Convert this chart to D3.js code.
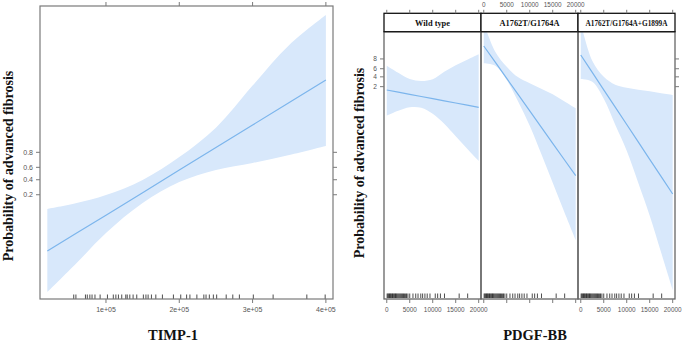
<!DOCTYPE html>
<html>
<head>
<meta charset="utf-8">
<script src="https://cdn.jsdelivr.net/npm/d3@7"></script>
<style>
  body { margin: 0; background: #fff; }
  svg { display: block; }
</style>
</head>
<body>
<svg id="chart"></svg>
<script>
// ---- data (fit & 95% band on the logit scale) ----
const timpX = [20000, 60000, 100000, 150000, 200000, 250000, 300000, 350000, 400000];
const timpFit = [-5.07, -3.89, -2.72, -1.25, 0.23, 1.70, 3.17, 4.64, 6.11];
const timpUpper = [-2.32, -1.93, -1.41, -0.42, 1.08, 3.0, 5.75, 8.4, 10.36];
const timpLower = [-7.75, -5.85, -3.89, -1.93, -0.56, 0.23, 0.69, 1.21, 1.80];
const timpRug = [56000, 59000, 72000, 74500, 78000, 81000, 85000, 92000, 102000, 110000,
  113500, 117000, 121500, 127000, 129000, 132500, 137000, 142000, 151000, 154500,
  157500, 162000, 168000, 177000, 192000, 202000, 210000, 214500, 224000, 233500,
  236500, 241000, 246500, 251000, 264000, 273000, 282000, 301000, 328000, 374000, 399000];
const timpTicks = [100000, 200000, 300000, 400000];
const timpTickLabels = ['1e+05', '2e+05', '3e+05', '4e+05'];

const genotypes = ['Wild type', 'A1762T/G1764A', 'A1762T/G1764A+G1899A'];
const pdgfX = [0, 2500, 5000, 7500, 10000, 12500, 15000, 17500, 20000];
const pdgfFit = [
  [-1.72, -1.94, -2.15, -2.37, -2.59, -2.80, -3.02, -3.23, -3.45],
  [2.68, 1.06, -0.56, -2.18, -3.81, -5.43, -7.05, -8.67, -10.29],
  [1.78, 0.04, -1.70, -3.43, -5.17, -6.91, -8.65, -10.38, -12.12]
];
const pdgfUpper = [
  [0.71, 0.0, -0.62, -0.82, -0.65, 0.1, 0.75, 1.3, 1.85],
  [5.0, 2.1, 0.6, -0.45, -1.05, -1.6, -2.15, -2.85, -3.55],
  [5.0, 1.2, -0.4, -1.2, -1.5, -1.7, -1.85, -2.05, -2.22]
];
const pdgfLower = [
  [-4.29, -3.8, -3.45, -3.5, -4.1, -5.1, -6.35, -7.6, -8.82],
  [0.95, 0.7, -0.72, -2.9, -5.3, -8.1, -11.0, -13.9, -16.72],
  [-0.62, -0.9, -2.6, -5.2, -7.8, -11.0, -14.3, -18.0, -21.72]
];
const pdgfRug = [80, 250, 420, 600, 760, 900, 1080, 1250, 1400, 1580, 1750, 1900, 2080,
  2250, 2450, 2650, 2850, 3050, 3250, 3450, 3650, 3850, 4100, 4300, 4600, 5000, 5700,
  6300, 6800, 7400, 7800, 8300, 8800, 9400, 10550, 11070, 11670, 12560, 15750, 17600];
const pdgfTicks = [0, 5000, 10000, 15000, 20000];

const probTicks = [0.2, 0.4, 0.6, 0.8];
const probLabelsLeft = ['0.2', '0.4', '0.6', '0.8'];
const probLabelsRight = ['2', '4', '6', '8'];

// ---- layout ----
const W = 685, H = 343;
const svg = d3.select('#chart').attr('width', W).attr('height', H);
svg.append('rect').attr('width', W).attr('height', H).attr('fill', '#fff');

const BAND = '#d8e8fb', LINE = '#7cb5ec', BOX = '#7a7a7a', TXT = '#555';
const serif = '"Liberation Serif", "Times New Roman", serif';
const sans = '"Liberation Sans", Arial, sans-serif';
const logit = p => Math.log(p / (1 - p));

function drawCurve(g, xs, xScale, yScale, fit, up, lo) {
  const pts = xs.map((x, i) => ({x, f: fit[i], u: up[i], l: lo[i]}));
  g.append('path')
    .datum(pts)
    .attr('d', d3.area().x(d => xScale(d.x)).y0(d => yScale(d.l)).y1(d => yScale(d.u))
      .curve(d3.curveCatmullRom))
    .attr('fill', BAND);
  g.append('path')
    .datum(pts)
    .attr('d', d3.line().x(d => xScale(d.x)).y(d => yScale(d.f)))
    .attr('fill', 'none').attr('stroke', LINE).attr('stroke-width', 1.2);
}

function rug(g, vals, xScale, yBottom) {
  g.selectAll(null).data(vals).enter().append('line')
    .attr('x1', d => xScale(d)).attr('x2', d => xScale(d))
    .attr('y1', yBottom - 4.5).attr('y2', yBottom)
    .attr('stroke', '#111').attr('stroke-width', 0.75);
}

// ================= left panel: TIMP-1 =================
const L = {left: 40, right: 333, top: 6, bottom: 299};
const xL = d3.scaleLinear().domain([10000, 409700]).range([L.left, L.right]);
const yL = d3.scaleLinear().domain([-8.2, 10.95]).range([L.bottom, L.top]);

const gL = svg.append('g');
const clipL = svg.append('clipPath').attr('id', 'clipL');
clipL.append('rect').attr('x', L.left).attr('y', L.top)
  .attr('width', L.right - L.left).attr('height', L.bottom - L.top);
const plotL = gL.append('g').attr('clip-path', 'url(#clipL)');
drawCurve(plotL, timpX, xL, yL, timpFit, timpUpper, timpLower);
rug(plotL, timpRug, xL, L.bottom);

gL.append('rect').attr('x', L.left).attr('y', L.top)
  .attr('width', L.right - L.left).attr('height', L.bottom - L.top)
  .attr('fill', 'none').attr('stroke', BOX).attr('stroke-width', 1.2);

// ticks
timpTicks.forEach((t, i) => {
  const x = xL(t);
  gL.append('line').attr('x1', x).attr('x2', x).attr('y1', L.bottom).attr('y2', L.bottom + 4)
    .attr('stroke', BOX);
  gL.append('line').attr('x1', x).attr('x2', x).attr('y1', L.top).attr('y2', L.top - 4)
    .attr('stroke', BOX);
  gL.append('text').text(timpTickLabels[i]).attr('x', x).attr('y', L.bottom + 13)
    .attr('text-anchor', 'middle').attr('font-family', sans).attr('font-size', 7)
    .attr('fill', TXT);
});
probTicks.forEach((p, i) => {
  const y = yL(logit(p));
  gL.append('line').attr('x1', L.left - 4).attr('x2', L.left).attr('y1', y).attr('y2', y)
    .attr('stroke', BOX);
  gL.append('line').attr('x1', L.right).attr('x2', L.right + 4).attr('y1', y).attr('y2', y)
    .attr('stroke', BOX);
  gL.append('text').text(probLabelsLeft[i]).attr('x', L.left - 7).attr('y', y + 2.4)
    .attr('text-anchor', 'end').attr('font-family', sans).attr('font-size', 7)
    .attr('fill', TXT);
});

svg.append('text').text('Probability of advanced fibrosis')
  .attr('transform', 'translate(13,166) rotate(-90)')
  .attr('text-anchor', 'middle').attr('font-family', serif).attr('font-weight', 'bold')
  .attr('font-size', 14).attr('fill', '#111');
svg.append('text').text('TIMP-1')
  .attr('x', 173).attr('y', 340)
  .attr('text-anchor', 'middle').attr('font-family', serif).attr('font-weight', 'bold')
  .attr('font-size', 14.5).attr('fill', '#111');

// ================= right panels: PDGF-BB by genotype =================
const R = {left: 384, width: 97, stripTop: 13.3, top: 31.7, bottom: 299};
const yR = d3.scaleLinear().domain([-22.62, 4.11]).range([R.bottom, R.top]);

genotypes.forEach((name, k) => {
  const x0 = R.left + k * R.width;
  const xR = d3.scaleLinear().domain([-600, 20500]).range([x0, x0 + R.width]);
  const g = svg.append('g');
  const clip = svg.append('clipPath').attr('id', 'clipR' + k);
  clip.append('rect').attr('x', x0).attr('y', R.top)
    .attr('width', R.width).attr('height', R.bottom - R.top);
  const plot = g.append('g').attr('clip-path', 'url(#clipR' + k + ')');
  drawCurve(plot, pdgfX, xR, yR, pdgfFit[k], pdgfUpper[k], pdgfLower[k]);
  rug(plot, pdgfRug, xR, R.bottom - 1);

  g.append('rect').attr('x', x0).attr('y', R.top)
    .attr('width', R.width).attr('height', R.bottom - R.top)
    .attr('fill', 'none').attr('stroke', '#666').attr('stroke-width', 1.3);

  // strip
  g.append('rect').attr('x', x0).attr('y', R.stripTop)
    .attr('width', R.width).attr('height', R.top - R.stripTop)
    .attr('fill', '#fff').attr('stroke', '#111').attr('stroke-width', 1.3);
  g.append('text').text(name).attr('x', x0 + R.width / 2).attr('y', R.stripTop + 12.2)
    .attr('text-anchor', 'middle').attr('font-family', serif).attr('font-weight', 'bold')
    .attr('font-size', k === 2 ? 7.3 : 8.4).attr('fill', '#111');

  // x ticks top & bottom, labels alternate
  pdgfTicks.forEach(t => {
    const x = xR(t);
    g.append('line').attr('x1', x).attr('x2', x).attr('y1', R.bottom).attr('y2', R.bottom + 4)
      .attr('stroke', BOX);
    g.append('line').attr('x1', x).attr('x2', x).attr('y1', R.stripTop).attr('y2', R.stripTop - 3.5)
      .attr('stroke', BOX);
    g.append('text').text(t).attr('x', x).attr('y', k !== 1 ? R.bottom + 12.5 : 7)
      .attr('text-anchor', 'middle').attr('font-family', sans).attr('font-size', 6.4)
      .attr('fill', TXT);
  });
});

// y ticks for right panel group
const xRightEnd = R.left + 3 * R.width;
probTicks.forEach((p, i) => {
  const y = yR(logit(p));
  svg.append('line').attr('x1', R.left - 4).attr('x2', R.left).attr('y1', y).attr('y2', y)
    .attr('stroke', BOX);
  svg.append('line').attr('x1', xRightEnd).attr('x2', xRightEnd + 4).attr('y1', y).attr('y2', y)
    .attr('stroke', BOX);
  svg.append('text').text(probLabelsRight[i]).attr('x', R.left - 7).attr('y', y + 2.3)
    .attr('text-anchor', 'end').attr('font-family', sans).attr('font-size', 6.6)
    .attr('fill', TXT);
});

svg.append('text').text('Probability of advanced fibrosis')
  .attr('transform', 'translate(364,163) rotate(-90)')
  .attr('text-anchor', 'middle').attr('font-family', serif).attr('font-weight', 'bold')
  .attr('font-size', 14).attr('fill', '#111');
svg.append('text').text('PDGF-BB')
  .attr('x', 535).attr('y', 340)
  .attr('text-anchor', 'middle').attr('font-family', serif).attr('font-weight', 'bold')
  .attr('font-size', 14.5).attr('fill', '#111');
</script>
</body>
</html>
